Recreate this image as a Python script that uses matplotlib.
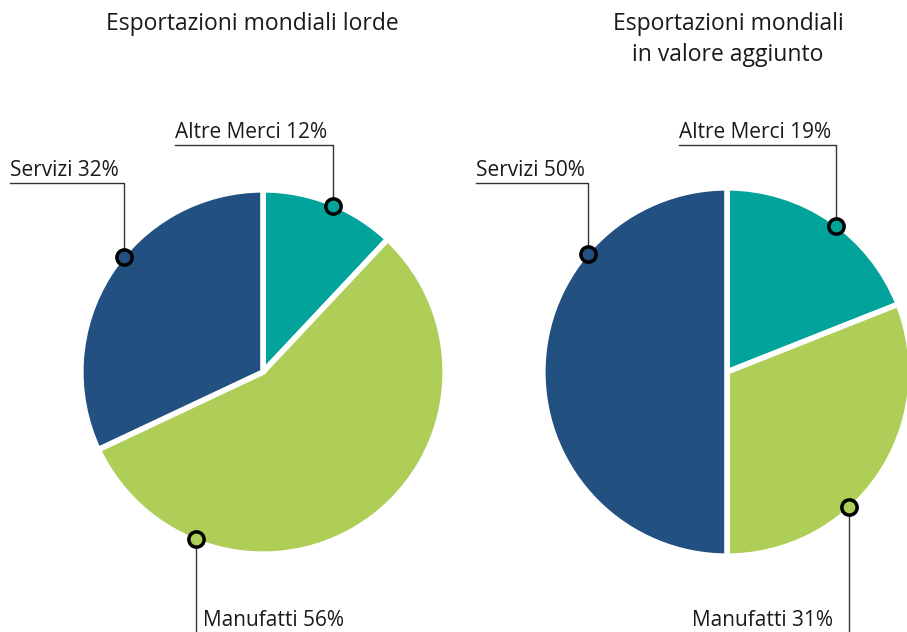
import matplotlib.pyplot as plt
import numpy as np

# dati
categorie = ["Altre Merci", "Manufatti", "Servizi"]
lorde = [12, 56, 32]
valore_aggiunto = [19, 31, 50]
titoli = ["Esportazioni mondiali lorde", "Esportazioni mondiali\nin valore aggiunto"]

colori = ["#02A39B", "#AECE57", "#215081"]
plt.rcParams["font.family"] = ["Open Sans", "DejaVu Sans"]

fig = plt.figure(figsize=(9.07, 6.32), dpi=100)

# posizione di ogni torta in pixel: centro x, centro y (dall'alto), raggio
layout = [
    {"rect": [0, 0, 0.5, 1], "cx": 263, "cy": 372, "r": 180, "x0": 0, "x1": 453.5,
     # angolo del pallino (gradi, orario da ore 12), posizione etichetta
     "dots": [22.9, 201.7, 309.6],
     "lab": [(-0.489, 1.261, "top"), (-0.333, -1.378, "bottom_r"), (-1.406, 1.05, "top")]},
    {"rect": [0.5, 0, 0.5, 1], "cx": 727, "cy": 372, "r": 182, "x0": 453.5, "x1": 907,
     "dots": [36.9, 137.9, 310.3],
     "lab": [(-0.264, 1.247, "top"), (0.585, -1.363, "bottom_l"), (-1.379, 1.038, "top")]},
]

for serie, titolo, lay in zip([lorde, valore_aggiunto], titoli, layout):
    ax = fig.add_axes(lay["rect"])
    r, cx, cy = lay["r"], lay["cx"], lay["cy"]
    ax.pie(serie, colors=colori, startangle=90, counterclock=False, radius=1.012,
           wedgeprops=dict(edgecolor="white", linewidth=4))
    ax.set_aspect("auto")
    ax.set_xlim((lay["x0"] - cx) / r, (lay["x1"] - cx) / r)
    ax.set_ylim((cy - 632) / r, cy / r)
    ax.axis("off")

    # titolo
    tx = 252 if "\n" not in titolo else 728
    ax.text((tx - cx) / r, (cy - 12) / r, titolo, ha="center", va="top",
            fontsize=16.5, color="#1a1a1a", linespacing=1.4)

    for cat, val, col, ang, (lx, ly, tipo) in zip(categorie, serie, colori,
                                                   lay["dots"], lay["lab"]):
        a = np.deg2rad(ang)
        dx, dy = np.sin(a), np.cos(a)
        testo = f"{cat} {val}%"
        if tipo == "top":
            ax.plot([dx, dx, lx], [dy, ly, ly], color="#333333", lw=1, zorder=3,
                    clip_on=False)
            ax.text(lx, ly + 0.012, testo, ha="left", va="bottom", fontsize=15,
                    color="#1a1a1a")
        else:
            ax.plot([dx, dx], [dy, -2], color="#333333", lw=1, zorder=3,
                    clip_on=False)
            ha = "left" if tipo == "bottom_r" else "right"
            ax.text(lx, ly, testo, ha=ha, va="center", fontsize=15,
                    color="#1a1a1a")
        ax.plot(dx, dy, "o", ms=11, mfc=col, mec="black", mew=2.5, zorder=4,
                clip_on=False)

fig.savefig("out.png", dpi=100)
